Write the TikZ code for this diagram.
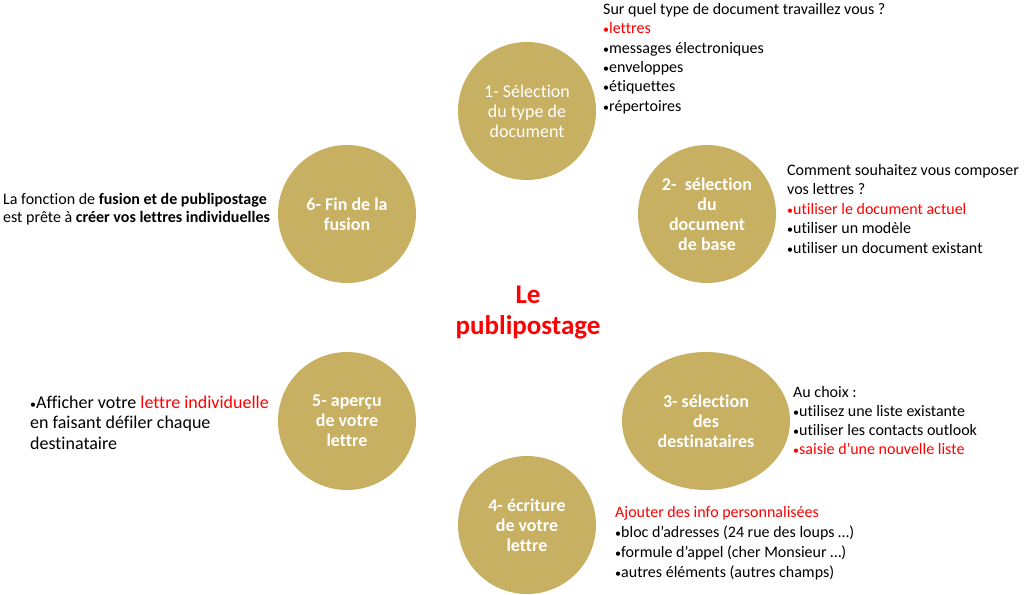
\documentclass[tikz,border=0pt]{standalone}
\usepackage{fontspec}
\setmainfont{Carlito}[Ligatures={NoCommon}]
\definecolor{gold}{RGB}{199,176,98}
\definecolor{hot}{RGB}{255,0,0}
\usetikzlibrary{shapes.geometric}
\newcommand{\bul}{{\fontsize{12}{12}\selectfont•}}
\tikzset{
  disc/.style={circle, fill=gold, minimum size=138pt, inner sep=0pt, text=white, align=center},
  oval/.style={ellipse, fill=gold, minimum width=168pt, minimum height=138pt, inner sep=0pt, text=white, align=center},
  ctext/.style={font=\fontsize{18}{20}\selectfont},
  ctextb/.style={font=\fontsize{18}{20}\selectfont\bfseries},
  info/.style={anchor=west, align=left, inner sep=0pt, text=black},
}
\begin{document}
\begin{tikzpicture}[x=1pt,y=-1pt]
\useasboundingbox (0,0) rectangle (1024,594);
% circles
\node[disc,ctext] (c1) at (527,111) {1- Sélection\\du type de\\document};
\node[disc,ctextb] (c2) at (707,214) {2-\ \ sélection\\du\\document\\de base};
\node[oval,ctextb] (c3) at (706,421) {3- sélection\\des\\destinataires};
\node[disc,ctextb] (c4) at (527,525) {4- écriture\\de votre\\lettre};
\node[disc,ctextb] (c5) at (347,421) {5- aperçu\\de votre\\lettre};
\node[disc,ctextb] (c6) at (347,214) {6- Fin de la\\fusion};
% centre title
\node[align=center, text=hot, font=\fontsize{27}{31}\selectfont\bfseries, inner sep=0pt] (title) at (528,312.5) {Le\\publipostage};
% info blocks
\node[info, font=\fontsize{16}{19.4}\selectfont] (t1) at (603,58.5)
  {Sur quel type de document travaillez vous ?\\
   \textcolor{hot}{\bul lettres}\\
   \bul messages électroniques\\
   \bul enveloppes\\
   \bul étiquettes\\
   \bul répertoires};
\node[info, font=\fontsize{16}{19.5}\selectfont] (t2) at (787,209)
  {Comment souhaitez vous composer\\
   vos lettres ?\\
   \textcolor{hot}{\bul utiliser le document actuel}\\
   \bul utiliser un modèle\\
   \bul utiliser un document existant};
\node[info, font=\fontsize{16}{19}\selectfont] (t3) at (793,420.5)
  {Au choix :\\
   \bul utilisez une liste existante\\
   \bul utiliser les contacts outlook\\
   \textcolor{hot}{\bul saisie d’une nouvelle liste}};
\node[info, font=\fontsize{16}{20}\selectfont] (t4) at (615,543)
  {\textcolor{hot}{Ajouter des info personnalisées}\\
   \bul bloc d’adresses (24 rue des loups …)\\
   \bul formule d’appel (cher Monsieur …)\\
   \bul autres éléments (autres champs)};
\node[info, font=\fontsize{18}{20.5}\selectfont] (t5) at (30,422.5)
  {\bul Afficher votre \textcolor{hot}{lettre individuelle}\\
   en faisant défiler chaque\\
   destinataire};
\node[info, font=\fontsize{16}{18.5}\selectfont] (t6) at (3,209)
  {La fonction de \textbf{fusion et de publipostage}\\
   est prête à \textbf{créer vos lettres individuelles}};
\end{tikzpicture}
\end{document}
